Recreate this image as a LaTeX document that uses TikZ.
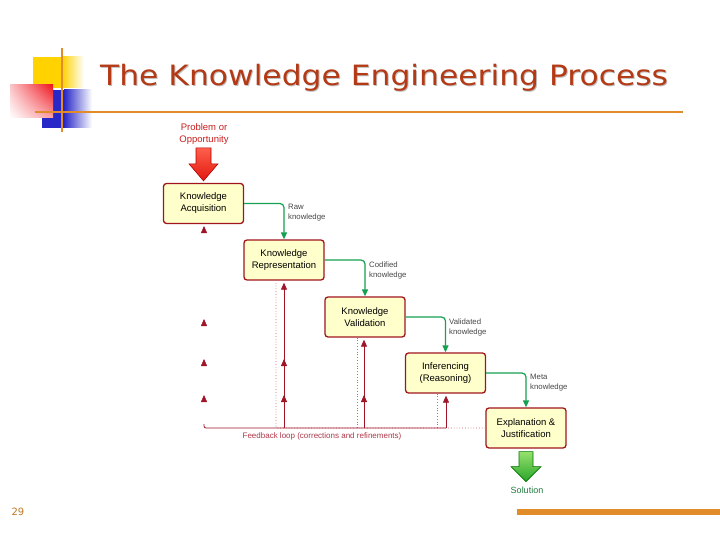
\documentclass[tikz,border=0pt]{standalone}
\usepackage{fontspec}
\setsansfont{Liberation Sans}
\newfontfamily\titlefont{DejaVu Sans}
\usetikzlibrary{arrows.meta,decorations.markings,calc,shadings}
\definecolor{boxred}{RGB}{160,20,30}
\definecolor{boxfill}{RGB}{255,255,204}
\definecolor{flowgreen}{RGB}{20,160,80}
\definecolor{fbred}{RGB}{160,20,40}
\definecolor{fbdotc}{RGB}{205,100,110}
\definecolor{orangeline}{RGB}{225,140,40}
\definecolor{titlec}{RGB}{180,58,22}
\definecolor{labelgray}{RGB}{70,70,70}
\definecolor{yellowc}{RGB}{255,210,0}
\definecolor{bluec}{RGB}{40,40,200}
\definecolor{redc}{RGB}{240,20,30}
\definecolor{probred}{RGB}{200,30,30}
\definecolor{solgreen}{RGB}{30,120,60}
\begin{document}
\begin{tikzpicture}[x=1pt,y=-1pt,
  box/.style={draw=boxred, line width=1.3pt, fill=boxfill, rounded corners=3pt,
    minimum width=80pt, minimum height=40pt, inner sep=0pt, align=center,
    font=\sffamily\fontsize{9.5}{12}\selectfont},
  flow/.style={draw=flowgreen, line width=1.2pt, rounded corners=4pt,
    -{Triangle[width=6pt,length=7pt]}},
  flowlabel/.style={anchor=west, align=left, text=labelgray, inner sep=0pt,
    font=\sffamily\fontsize{7.8}{10}\selectfont},
  fbline/.style={draw=fbred, line width=0.8pt},
  fbdot/.style={draw=fbdotc, line width=0.8pt, dotted, rounded corners=2pt},
  fbtip/.style={-{Triangle[width=6pt,length=7pt]}},
  bigarrow/.style={line width=0.6pt, line join=miter}
]
\useasboundingbox (0,0) rectangle (720,540);

% decorative squares
\fill[yellowc] (33,57) rectangle (62,88);
\shade[left color=yellowc, right color=white] (62,57) rectangle (84,88);
\fill[bluec] (42,90) rectangle (64,128);
\shade[left color=bluec, right color=white] (64,90) rectangle (92,128);
\shade[upper left=redc!25!white, upper right=redc, lower left=white, lower right=redc!40!white] (10,85) rectangle (53,118);
\draw[orangeline, line width=2.5pt] (62,48) -- (62,132);
\draw[orangeline, line width=2.5pt] (35,112) -- (683,112);

% title
\node[anchor=base west, inner sep=0pt, text=black!25] (titleshadow) at (101,87)
  {\titlefont\fontsize{28}{30}\selectfont\scalebox{1.12}[1]{The Knowledge Engineering Process}};
\node[anchor=base west, inner sep=0pt, text=titlec] (title) at (100,86)
  {\titlefont\fontsize{28}{30}\selectfont\scalebox{1.12}[1]{The Knowledge Engineering Process}};

% boxes
\node[box] (b1) at (203.5,203.5) {Knowledge\\Acquisition};
\node[box] (b2) at (284,260) {Knowledge\\Representation};
\node[box] (b3) at (365,317) {Knowledge\\Validation};
\node[box] (b4) at (445.5,373) {Inferencing\\(Reasoning)};
\node[box] (b5) at (526,428) {Explanation \&\\Justification};

% problem / solution
\node[align=center, text=probred, inner sep=0pt, font=\sffamily\fontsize{9.5}{12}\selectfont] (prob) at (204,134) {Problem or\\Opportunity};
\begin{scope}[shift={(b1.north)}]
\path[bigarrow, draw=red!70!black, top color={rgb,255:red,255;green,95;blue,75}, bottom color={rgb,255:red,225;green,25;blue,15}]
  (-7.5,-35) -- (7.5,-35) -- (7.5,-19) -- (14.5,-19) -- (0,-2) -- (-14.5,-19) -- (-7.5,-19) -- cycle;
\end{scope}
\begin{scope}[shift={(b5.south)}]
\path[bigarrow, draw=green!45!black, top color={rgb,255:red,150;green,225;blue,110}, bottom color={rgb,255:red,40;green,165;blue,40}]
  (-7,3) -- (7,3) -- (7,18) -- (15,18) -- (0,33) -- (-15,18) -- (-7,18) -- cycle;
\end{scope}
\node[text=solgreen, inner sep=0pt, font=\sffamily\fontsize{9}{11}\selectfont] (sol) at (527,490) {Solution};

% green flows
\draw[flow] (b1.east) -| (b2.north);
\draw[flow] (b2.east) -| (b3.north);
\draw[flow] (b3.east) -| (b4.north);
\draw[flow] (b4.east) -| (b5.north);
\node[flowlabel] (l1) at (288,212.5) {Raw\\knowledge};
\node[flowlabel] (l2) at (369,270) {Codified\\knowledge};
\node[flowlabel] (l3) at (449,327) {Validated\\knowledge};
\node[flowlabel] (l4) at (530,383) {Meta\\knowledge};

% feedback loop
\coordinate (fb1) at (204,428);
\coordinate (fb2) at (284,428);
\coordinate (fb3) at (364,428);
\coordinate (fb4) at (446,428);
\coordinate (fbend) at (276,428);

\draw[fbdot] (b5.west) -- (fbend) -- (b2.south -| fbend);
\draw[fbdot] (b3.south -| 357,0) -- (357,428);
\draw[fbdot] (b4.south -| 437,0) -- (437,428);

\draw[fbline, rounded corners=2pt] (204,424) |- (fb4);

\path[color=fbred, postaction={decorate}, decoration={markings,
   mark=at position 33pt with {\arrow{Triangle[width=6pt,length=7pt]}},
   mark=at position 69pt with {\arrow{Triangle[width=6pt,length=7pt]}},
   mark=at position 109pt with {\arrow{Triangle[width=6pt,length=7pt]}},
   mark=at position 202pt with {\arrow{Triangle[width=6pt,length=7pt]}}}]
   (fb1) -- (b1.south -| fb1);
\draw[fbline, fbtip, postaction={decorate}, decoration={markings,
   mark=at position 33pt with {\arrow{Triangle[width=6pt,length=7pt]}},
   mark=at position 69pt with {\arrow{Triangle[width=6pt,length=7pt]}}}]
   (fb2) -- ($(b2.south -| fb2)+(0,2)$);
\draw[fbline, fbtip, postaction={decorate}, decoration={markings,
   mark=at position 33pt with {\arrow{Triangle[width=6pt,length=7pt]}}}]
   (fb3) -- ($(b3.south -| fb3)+(0,2)$);
\draw[fbline, fbtip] (fb4) -- ($(b4.south -| fb4)+(0,2)$);

\node[text=fbred!85!white, inner sep=0pt, font=\sffamily\fontsize{8}{10}\selectfont] (fblabel) at (322,436) {Feedback loop (corrections and refinements)};

% footer
\fill[orangeline] (517,509) rectangle (720,515);
\node[text=orangeline!85!black, inner sep=0pt, font=\titlefont\fontsize{10}{12}\selectfont] (pg) at (18,512) {29};
\end{tikzpicture}
\end{document}
